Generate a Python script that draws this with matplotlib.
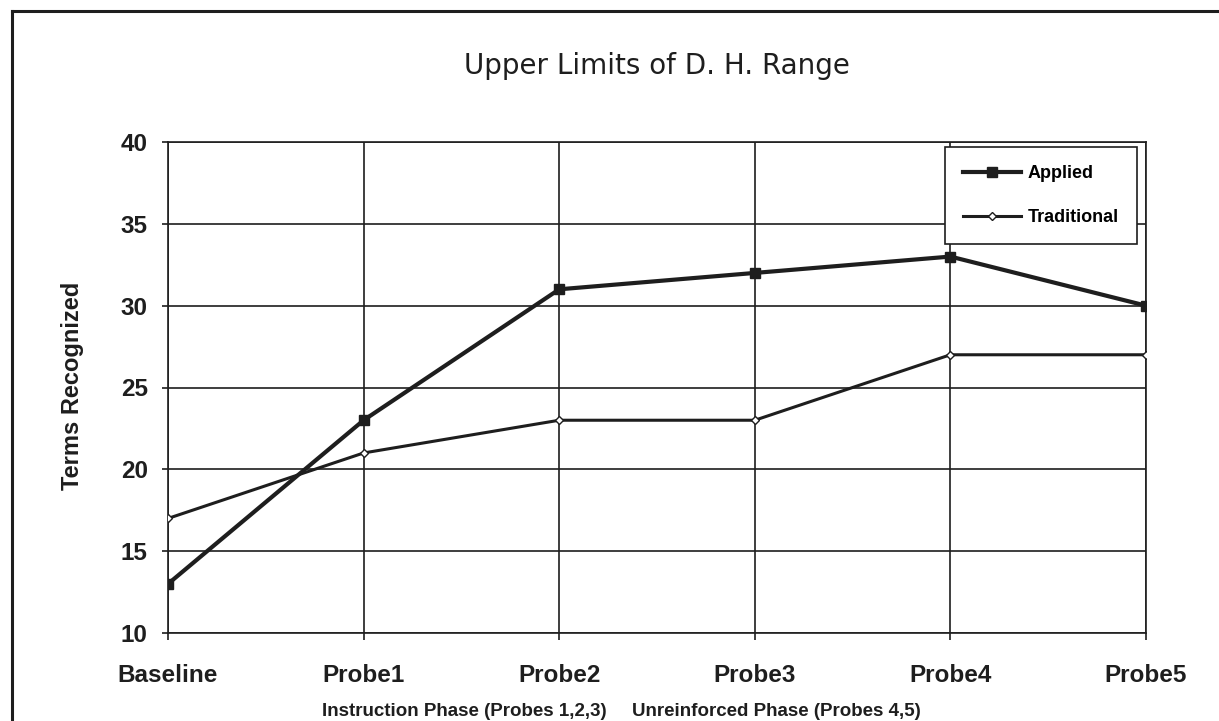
import matplotlib
matplotlib.use("Agg")
import matplotlib.pyplot as plt
from matplotlib.lines import Line2D
from matplotlib.font_manager import FontProperties

# data
probes = ["Baseline", "Probe1", "Probe2", "Probe3", "Probe4", "Probe5"]
applied = [13, 23, 31, 32, 33, 30]
traditional = [17, 21, 23, 23, 27, 27]
y_ticks = [10, 15, 20, 25, 30, 35, 40]

ink = "#1e1e1e"

def bold(size):
    return FontProperties(family="Liberation Sans", weight="bold", size=size)

fig = plt.figure(figsize=(12.19, 7.21), dpi=100)
ax = fig.add_axes([168 / 1219, 88 / 721, 978 / 1219, 491 / 721])

x = list(range(len(probes)))
ax.plot(x, applied, color=ink, lw=3.0, marker="s", ms=7.5,
        mfc=ink, mec=ink, label="Applied", zorder=4)
ax.plot(x, traditional, color=ink, lw=2.2, marker="D", ms=4.5,
        mfc="white", mec=ink, mew=1.0, label="Traditional", zorder=3)

ax.set_xlim(0, len(probes) - 1)
ax.set_ylim(10, 40)
ax.set_yticks(y_ticks)
ax.set_xticks(x)
ax.set_xticklabels(probes)
ax.grid(True, color=ink, lw=1.2)
ax.set_axisbelow(True)
for s in ax.spines.values():
    s.set_color(ink)
    s.set_linewidth(1.2)

ax.tick_params(axis="y", length=4.5, width=1.2, pad=10, colors=ink)
ax.tick_params(axis="x", length=5, width=1.2, pad=17, colors=ink)
for lab in ax.get_xticklabels() + ax.get_yticklabels():
    lab.set_fontproperties(bold(17.5))

fig.text(73 / 1219, 1 - 386 / 721, "Terms Recognized", rotation=90,
         ha="center", va="center", fontproperties=bold(17), color=ink)

fig.text(657 / 1219, 1 - 66 / 721, "Upper Limits of D. H. Range",
         ha="center", va="center", fontsize=20, family="DejaVu Sans",
         color=ink)

fig.text(322 / 1219, 1 - 711 / 721, "Instruction Phase (Probes 1,2,3)",
         ha="left", va="center", fontproperties=bold(13.5), color=ink)
fig.text(632 / 1219, 1 - 711 / 721, "Unreinforced Phase (Probes 4,5)",
         ha="left", va="center", fontproperties=bold(13.5), color=ink)

leg = ax.legend(loc="upper right", bbox_to_anchor=(1137 / 1219, 1 - 147 / 721),
                bbox_transform=fig.transFigure, borderaxespad=0, frameon=True,
                fancybox=False, framealpha=1, edgecolor=ink, handlelength=3.2,
                handletextpad=0.4, labelspacing=1.5, borderpad=1.0,
                prop=bold(13))
leg.get_frame().set_linewidth(1.2)

# outer chart frame (left and top edges visible)
fig.add_artist(Line2D([12 / 1219, 12 / 1219], [0, 1 - 11 / 721],
                      transform=fig.transFigure, color=ink, lw=2.2))
fig.add_artist(Line2D([12 / 1219, 1], [1 - 11 / 721, 1 - 11 / 721],
                      transform=fig.transFigure, color=ink, lw=2.2))

fig.savefig("out.png", dpi=100)
